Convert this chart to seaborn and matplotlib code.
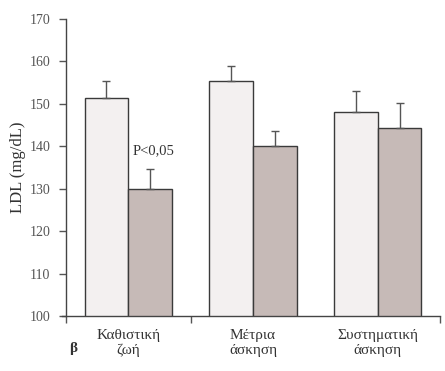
import matplotlib
matplotlib.use('Agg')
import matplotlib.pyplot as plt
import seaborn as sns
import pandas as pd

# Data
groups = ['Καθιστική\nζωή', 'Μέτρια\nάσκηση', 'Συστηματική\nάσκηση']
before = [151.3, 155.4, 148.0]
after = [130.0, 140.0, 144.4]
err_before = [4.0, 3.6, 5.0]
err_after = [4.7, 3.7, 5.7]
y_ticks = [100, 110, 120, 130, 140, 150, 160, 170]

df = pd.DataFrame({
    'group': groups * 2,
    'phase': ['pre'] * 3 + ['post'] * 3,
    'ldl': before + after,
})

sns.set_style('ticks')
plt.rcParams['font.family'] = ['Liberation Serif', 'DejaVu Serif']

fig = plt.figure(figsize=(4.45, 3.71), dpi=100)
ax = fig.add_axes([0.148, 0.148, 0.841, 0.801])

sns.barplot(data=df, x='group', y='ldl', hue='phase', order=groups,
            hue_order=['pre', 'post'], palette=['#f4f0ef', '#c8b9b4'],
            width=0.7, errorbar=None, edgecolor='#3a3a3a', linewidth=1.0,
            legend=False, ax=ax)

# upward-only error bars, placed on the drawn bars
bars = ax.patches
errs = err_before + err_after
for p, e in zip(bars, errs):
    xc = p.get_x() + p.get_width() / 2
    top = p.get_y() + p.get_height()
    ax.errorbar(xc, top, yerr=[[0], [e]], fmt='none', ecolor='#555555',
                elinewidth=1.0, capsize=3, capthick=1.0)

ax.text(0.2, 139, 'P<0,05', ha='center', va='center', fontsize=10.5, color='#333333')

ax.set_ylim(100, 170)
ax.set_xlim(-0.5, 2.5)
ax.set_yticks(y_ticks)
ax.tick_params(axis='y', labelsize=10, colors='#555555', length=5, width=1.0, pad=6)
ax.tick_params(axis='x', length=0, labelsize=11, labelcolor='#333333', pad=9)
ax.set_xticks([-0.5, 0.5, 2.5], minor=True)
ax.tick_params(axis='x', which='minor', length=5, width=1.0, color='#555555')
ax.set_xlabel('')
ax.set_ylabel('LDL (mg/dL)', fontsize=12, color='#333333', labelpad=3)
for s in ['top', 'right']:
    ax.spines[s].set_visible(False)
for s in ['left', 'bottom']:
    ax.spines[s].set_color('#444444')
    ax.spines[s].set_linewidth(1.0)
ax.spines['bottom'].set_bounds(-0.53, 2.5)

fig.text(0.155, 0.052, 'β', fontsize=11, color='#333333', fontweight='bold')

fig.savefig('out.png', dpi=100)
